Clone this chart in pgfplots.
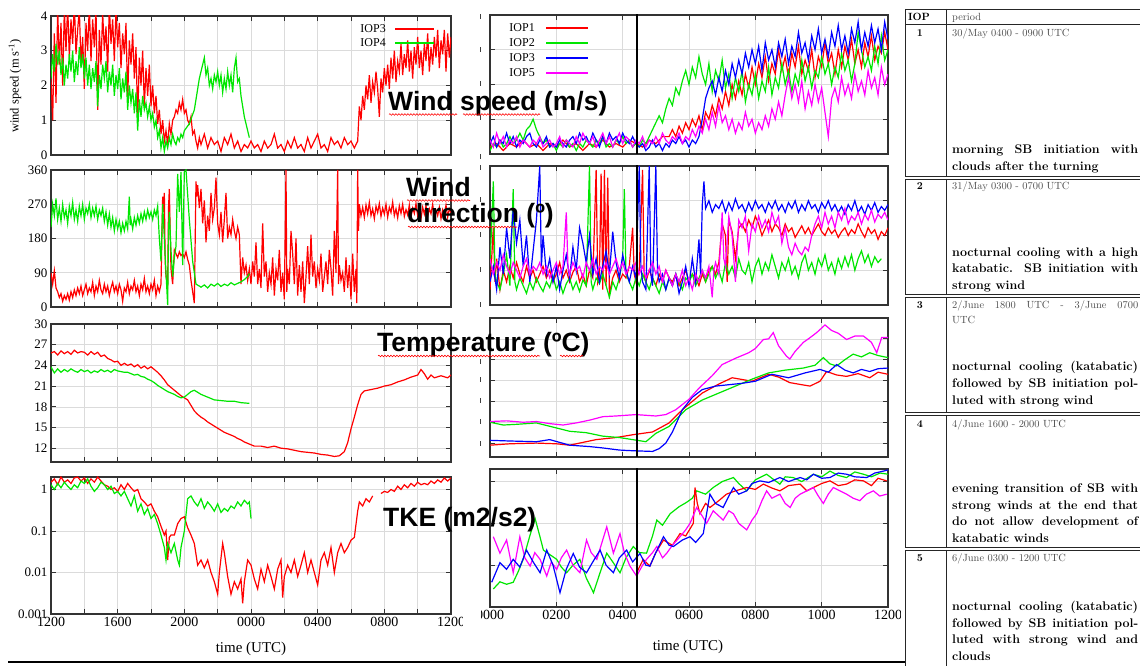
\documentclass[border=0pt]{standalone}
\usepackage{fontspec}
\usepackage{pgfplots}
\pgfplotsset{compat=1.18}
\usetikzlibrary{decorations.pathmorphing}
\newfontfamily\tnr{Liberation Serif}
\newfontfamily\arial{Liberation Sans}
\definecolor{cR}{RGB}{255,0,0}
\definecolor{cG}{RGB}{0,230,0}
\definecolor{cB}{RGB}{0,0,255}
\definecolor{cM}{RGB}{255,0,255}
\pgfplotsset{
 base/.style={scale only axis, anchor=north west,
   axis line style={line width=1.5pt, black!80},
   tick align=inside, xtick pos=both, ytick pos=both,
   major tick length=5pt, tick style={black!80, line width=0.8pt},
   grid=major, grid style={gray!28, line width=0.5pt},
   /pgf/number format/assume math mode=true,
   yticklabel style={font=\tnr\fontsize{13}{13}\selectfont},
   xticklabel style={font=\tnr\fontsize{14}{14}\selectfont},
   yminorticks=false},
 lefta/.style={base, width=400pt, xmin=0, xmax=24, xtick={0,2,...,24}, xticklabels={}},
 mida/.style={base, width=398pt, xmin=0, xmax=12, xtick={0,2,...,12}, xticklabels={}, yticklabels={}},
 dl/.style={line width=1.2pt},
}
\begin{document}
\begin{tikzpicture}[x=1pt,y=1pt]
\useasboundingbox (0,0) rectangle (1140,666);

% ================= LEFT COLUMN =================
\begin{scope}
\clip (0,0) rectangle (462,666);
% wind speed
\begin{axis}[lefta, at={(51pt,650pt)}, height=139pt, ymin=0, ymax=4, ytick={0,1,2,3,4}]
\addplot[cR, dl] coordinates {(0,2.2)(0.1,1.0)(0.2,3.5)(0.3,1.5)(0.4,4.2)(0.5,2.6)(0.6,3.8)(0.7,2.0)(0.8,4.2)(0.9,3.0)(1.0,4.3)(1.1,2.8)(1.2,3.9)(1.3,3.2)(1.4,4.4)(1.5,2.9)(1.6,3.6)(1.7,4.2)(1.8,2.6)(1.9,3.4)(2.0,1.9)(2.1,3.8)(2.2,3.0)(2.3,4.3)(2.4,2.7)(2.5,3.9)(2.6,3.1)(2.7,4.2)(2.8,1.3)(2.9,3.6)(3.0,2.6)(3.1,4.1)(3.2,3.0)(3.3,3.7)(3.4,2.4)(3.5,4.3)(3.6,3.2)(3.7,3.9)(3.8,2.7)(3.9,4.2)(4.0,3.1)(4.1,3.8)(4.2,2.5)(4.3,3.5)(4.4,2.9)(4.5,3.8)(4.6,1.6)(4.7,3.3)(4.8,2.6)(4.9,3.5)(5.0,2.2)(5.1,3.1)(5.2,1.0)(5.3,2.8)(5.4,2.0)(5.5,3.0)(5.6,1.4)(5.7,2.5)(5.8,1.7)(5.9,2.6)(6.0,1.4)(6.1,2.0)(6.2,1.2)(6.3,1.7)(6.4,0.9)(6.5,1.3)(6.6,0.6)(6.7,1.0)(6.8,0.4)(6.9,0.7)(7.0,0.3)(7.1,0.9)(7.2,0.6)(7.3,1.0)(7.4,1.1)(7.5,1.3)(7.6,1.2)(7.7,1.5)(7.8,1.3)(7.9,1.6)(8.0,1.2)(8.1,1.3)(8.2,1.0)(8.3,0.9)(8.4,1.1)(8.5,0.6)(8.6,0.7)(8.7,0.4)(8.8,0.2)(8.9,0.5)(9.0,0.3)(9.2,0.6)(9.4,0.2)(9.6,0.5)(9.8,0.3)(10.0,0.4)(10.2,0.1)(10.4,0.5)(10.6,0.3)(10.8,0.6)(11.0,0.2)(11.2,0.4)(11.4,0.1)(11.6,0.3)(11.8,0.2)(12.0,0.4)(12.2,0.2)(12.4,0.3)(12.6,0.1)(12.8,0.4)(13.0,0.2)(13.2,0.3)(13.4,0.6)(13.6,0.2)(13.8,0.3)(14.0,0.1)(14.2,0.4)(14.4,0.2)(14.6,0.5)(14.8,0.2)(15.0,0.3)(15.2,0.1)(15.4,0.5)(15.6,0.2)(15.8,0.4)(16.0,0.6)(16.2,0.2)(16.4,0.3)(16.6,0.1)(16.8,0.5)(17.0,0.3)(17.2,0.4)(17.4,0.2)(17.6,0.5)(17.8,0.3)(18.0,0.4)(18.2,0.2)(18.4,0.4)(18.5,1.4)(18.6,1.0)(18.7,1.7)(18.8,1.3)(18.9,2.0)(19.0,1.6)(19.1,2.3)(19.2,1.5)(19.3,2.1)(19.4,1.8)(19.5,2.4)(19.6,1.9)(19.7,1.1)(19.8,2.2)(19.9,1.8)(20.0,2.5)(20.1,2.0)(20.2,2.6)(20.3,1.9)(20.4,2.8)(20.5,2.2)(20.6,3.0)(20.7,2.1)(20.8,2.7)(20.9,2.4)(21.0,3.2)(21.1,2.3)(21.2,2.9)(21.3,2.5)(21.4,3.3)(21.5,2.4)(21.6,3.0)(21.7,2.2)(21.8,3.1)(21.9,2.6)(22.0,3.4)(22.1,2.5)(22.2,3.0)(22.3,2.3)(22.4,3.2)(22.5,2.7)(22.6,3.5)(22.7,2.4)(22.8,3.1)(22.9,2.6)(23.0,3.4)(23.1,2.8)(23.2,3.6)(23.3,2.5)(23.4,3.3)(23.5,2.9)(23.6,3.6)(23.7,2.4)(23.8,3.5)(23.9,2.8)(24.0,3.4)};
\addplot[cG, dl] coordinates {(0.0,2.2)(0.1,2.9)(0.2,2.4)(0.3,3.2)(0.4,2.6)(0.5,3.0)(0.6,2.3)(0.7,2.8)(0.8,2.0)(0.9,2.6)(1.0,2.2)(1.1,2.9)(1.2,2.4)(1.3,3.0)(1.4,2.1)(1.5,2.7)(1.6,2.3)(1.7,3.1)(1.8,2.5)(1.9,2.9)(2.0,2.2)(2.1,2.8)(2.2,2.0)(2.3,2.6)(2.4,1.9)(2.5,2.5)(2.6,2.1)(2.7,2.7)(2.8,1.4)(2.9,2.3)(3.0,1.9)(3.1,2.6)(3.2,2.2)(3.3,2.7)(3.4,1.8)(3.5,2.4)(3.6,2.0)(3.7,2.6)(3.8,1.7)(3.9,2.3)(4.0,1.9)(4.1,2.5)(4.2,1.6)(4.3,2.2)(4.4,1.8)(4.5,2.4)(4.6,1.3)(4.7,2.0)(4.8,1.5)(4.9,1.9)(5.0,1.2)(5.1,1.8)(5.2,0.7)(5.3,1.6)(5.4,1.1)(5.5,1.7)(5.6,1.3)(5.7,1.5)(5.8,1.1)(5.9,1.4)(6.0,1.0)(6.1,1.2)(6.2,0.8)(6.3,1.0)(6.4,0.5)(6.5,0.7)(6.6,0.2)(6.7,0.5)(6.8,0.1)(6.9,0.4)(7.0,0.2)(7.1,0.5)(7.2,0.3)(7.3,0.6)(7.4,0.4)(7.5,0.3)(7.6,0.5)(7.7,0.4)(7.8,0.6)(7.9,0.5)(8.0,0.7)(8.3,0.9)(8.6,1.3)(8.7,1.6)(8.8,1.9)(8.9,2.2)(9.0,2.4)(9.1,2.6)(9.2,2.8)(9.3,2.3)(9.4,2.5)(9.5,2.0)(9.6,2.2)(9.7,1.9)(9.8,2.3)(9.9,2.1)(10.0,2.4)(10.1,2.0)(10.2,2.3)(10.3,1.8)(10.4,2.2)(10.5,1.9)(10.6,2.4)(10.7,2.0)(10.8,2.3)(10.9,1.8)(11.0,2.5)(11.1,2.8)(11.2,2.1)(11.3,2.2)(11.4,1.7)(11.5,1.4)(11.6,1.1)(11.7,0.9)(11.8,0.7)(11.9,0.5)};
\end{axis}
% wind direction
\begin{axis}[lefta, at={(51pt,496pt)}, height=137pt, ymin=0, ymax=360, ytick={0,90,180,270,360}]
\addplot[cR, dl] coordinates {(0.0,90)(0.1,60)(0.2,95)(0.3,50)(0.4,40)(0.5,25)(0.6,35)(0.7,15)(0.8,30)(0.9,20)(1.0,35)(1.1,18)(1.2,40)(1.3,25)(1.4,45)(1.5,30)(1.6,50)(1.7,35)(1.8,55)(1.9,30)(2.0,45)(2.1,60)(2.2,35)(2.3,50)(2.4,40)(2.5,65)(2.6,30)(2.7,55)(2.8,40)(2.9,70)(3.0,45)(3.1,35)(3.2,60)(3.3,40)(3.4,55)(3.5,30)(3.6,50)(3.7,65)(3.8,40)(3.9,55)(4.0,35)(4.1,60)(4.2,45)(4.3,15)(4.4,50)(4.5,40)(4.6,65)(4.7,35)(4.8,55)(4.9,45)(5.0,70)(5.1,40)(5.2,55)(5.3,30)(5.4,60)(5.5,45)(5.6,75)(5.7,40)(5.8,55)(5.9,35)(6.0,60)(6.1,45)(6.2,70)(6.3,30)(6.4,55)(6.5,40)(6.6,60)(6.7,290)(6.75,250)(6.8,300)(6.85,120)(6.9,80)(7.0,60)(7.05,260)(7.1,310)(7.15,200)(7.2,100)(7.3,60)(7.4,150)(7.5,140)(7.6,130)(7.7,145)(7.8,135)(7.9,140)(8.0,130)(8.1,145)(8.2,125)(8.3,110)(8.4,70)(8.5,40)(8.6,10)(8.7,330)(8.75,290)(8.8,320)(8.9,260)(9.0,310)(9.1,220)(9.2,280)(9.3,170)(9.4,240)(9.5,200)(9.6,300)(9.7,230)(9.8,260)(9.9,340)(10.0,220)(10.1,190)(10.2,250)(10.3,170)(10.4,230)(10.5,300)(10.6,180)(10.7,210)(10.8,190)(10.9,230)(11.0,200)(11.1,180)(11.2,210)(11.3,190)(11.4,60)(11.5,130)(11.6,90)(11.7,110)(11.8,70)(11.9,100)(12.0,60)(12.1,120)(12.2,80)(12.3,170)(12.4,60)(12.5,100)(12.6,50)(12.7,220)(12.8,80)(12.9,120)(13.0,40)(13.1,90)(13.2,60)(13.3,130)(13.4,30)(13.5,100)(13.6,70)(13.7,150)(13.8,40)(13.9,90)(14.0,20)(14.1,360)(14.15,40)(14.2,100)(14.3,60)(14.4,200)(14.5,140)(14.6,60)(14.7,180)(14.8,30)(14.9,110)(15.0,40)(15.1,120)(15.2,10)(15.3,80)(15.4,160)(15.5,60)(15.6,190)(15.7,80)(15.8,120)(15.9,50)(16.0,100)(16.1,70)(16.2,140)(16.3,40)(16.4,80)(16.5,120)(16.6,60)(16.7,150)(16.8,100)(16.9,30)(17.0,200)(17.1,90)(17.2,360)(17.25,60)(17.3,110)(17.4,70)(17.5,90)(17.6,40)(17.7,130)(17.8,50)(17.9,110)(18.0,20)(18.1,140)(18.2,40)(18.3,100)(18.35,10)(18.4,360)(18.45,200)(18.5,270)(18.6,240)(18.7,262)(18.8,235)(18.9,268)(19.0,245)(19.1,275)(19.2,240)(19.3,258)(19.4,232)(19.5,265)(19.6,248)(19.7,272)(19.8,238)(19.9,260)(20.0,244)(20.1,270)(20.2,236)(20.3,262)(20.4,248)(20.5,276)(20.6,240)(20.7,258)(20.8,234)(20.9,266)(21.0,246)(21.1,270)(21.2,238)(21.3,256)(21.4,242)(21.5,268)(21.6,236)(21.7,260)(21.8,246)(21.9,272)(22.0,240)(22.1,255)(22.2,232)(22.3,262)(22.4,244)(22.5,266)(22.6,238)(22.7,258)(22.8,245)(22.9,270)(23.0,236)(23.1,254)(23.2,240)(23.3,262)(23.4,232)(23.5,256)(23.6,244)(23.7,268)(23.8,236)(23.9,258)(24.0,248)};
\addplot[cG, dl] coordinates {(0.0,210)(0.1,270)(0.2,240)(0.3,285)(0.4,230)(0.5,260)(0.6,225)(0.7,270)(0.8,235)(0.9,255)(1.0,220)(1.1,265)(1.2,240)(1.3,275)(1.4,230)(1.5,255)(1.6,225)(1.7,265)(1.8,240)(1.9,270)(2.0,230)(2.1,260)(2.2,245)(2.3,270)(2.4,235)(2.5,260)(2.6,240)(2.7,265)(2.8,230)(2.9,255)(3.0,240)(3.1,260)(3.2,225)(3.3,250)(3.4,215)(3.5,245)(3.6,210)(3.7,235)(3.8,200)(3.9,230)(4.0,205)(4.1,225)(4.2,195)(4.3,220)(4.4,200)(4.5,225)(4.6,205)(4.7,290)(4.75,215)(4.8,230)(4.9,205)(5.0,235)(5.1,215)(5.2,240)(5.3,220)(5.4,245)(5.5,225)(5.6,250)(5.7,230)(5.8,255)(5.9,235)(6.0,250)(6.1,230)(6.2,255)(6.3,240)(6.4,265)(6.5,180)(6.6,120)(6.7,270)(6.8,180)(6.9,90)(7.0,5)(7.05,200)(7.1,250)(7.2,150)(7.3,80)(7.4,130)(7.5,160)(7.6,350)(7.7,250)(7.8,355)(7.9,110)(8.0,355)(8.1,360)(8.3,230)(8.5,120)(8.7,60)(8.9,55)(9.0,52)(9.2,58)(9.4,50)(9.6,60)(9.8,55)(10.0,62)(10.2,54)(10.4,60)(10.6,56)(10.8,64)(11.0,58)(11.2,62)(11.4,66)(11.6,72)(11.8,80)(11.9,88)};
\end{axis}
% temperature
\begin{axis}[lefta, at={(51pt,342pt)}, height=138pt, ymin=10, ymax=30, ytick={12,15,18,21,24,27,30}]
\addplot[cR, dl] coordinates {(0,25.8)(0.2,26.0)(0.4,25.5)(0.6,26.1)(0.8,25.7)(1.0,26.0)(1.2,25.6)(1.4,26.2)(1.6,25.8)(1.8,26.0)(2.0,25.9)(2.2,25.5)(2.4,26.0)(2.6,25.6)(2.8,25.9)(3.0,25.3)(3.2,25.5)(3.4,25.0)(3.6,24.8)(3.8,24.5)(4.0,24.6)(4.2,24.0)(4.4,24.3)(4.6,24.0)(4.8,24.2)(5.0,23.8)(5.2,24.1)(5.4,23.6)(5.6,23.9)(5.8,23.5)(6.0,23.8)(6.2,23.4)(6.4,23.0)(6.6,22.5)(6.8,21.9)(7.0,21.2)(7.2,20.8)(7.4,20.4)(7.6,20.0)(7.8,19.6)(8.0,19.3)(8.2,19.0)(8.4,18.2)(8.6,17.4)(8.8,16.9)(9.0,16.5)(9.2,16.2)(9.4,15.8)(9.6,15.5)(9.8,15.2)(10.0,14.9)(10.2,14.6)(10.4,14.3)(10.6,14.1)(10.8,13.9)(11.0,13.7)(11.2,13.4)(11.4,13.2)(11.6,12.9)(11.8,12.7)(12.0,12.5)(12.2,12.3)(12.6,12.3)(13.0,12.1)(13.4,12.3)(13.8,12.0)(14.2,11.9)(14.6,11.7)(15.0,11.5)(15.4,11.4)(15.8,11.3)(16.2,11.1)(16.6,11.0)(17.0,10.8)(17.3,10.9)(17.6,11.5)(17.8,12.8)(18.0,14.8)(18.2,16.5)(18.4,18.3)(18.6,19.8)(18.8,20.3)(19.2,20.5)(19.6,20.7)(20.0,21.0)(20.4,21.2)(20.8,21.6)(21.2,21.9)(21.6,22.3)(22.0,22.6)(22.2,23.4)(22.4,22.8)(22.6,22.0)(22.8,22.6)(23.0,22.2)(23.4,22.5)(23.8,22.2)(24.0,22.6)};
\addplot[cG, dl] coordinates {(0,23.8)(0.2,22.9)(0.4,23.5)(0.6,23.0)(0.8,23.4)(1.0,23.1)(1.2,23.5)(1.4,23.2)(1.6,23.0)(1.8,23.4)(2.0,23.1)(2.2,23.3)(2.4,22.9)(2.6,23.2)(2.8,23.0)(3.0,23.4)(3.2,23.1)(3.4,23.3)(3.6,23.0)(3.8,23.4)(4.0,23.2)(4.2,23.1)(4.4,23.0)(4.6,23.0)(4.8,22.8)(5.0,22.6)(5.2,22.7)(5.4,22.4)(5.6,22.3)(5.8,22.0)(6.0,21.8)(6.2,21.5)(6.4,21.1)(6.6,20.8)(6.8,20.5)(7.0,20.2)(7.2,20.0)(7.4,19.8)(7.6,19.5)(7.8,19.3)(8.0,19.4)(8.2,19.8)(8.4,20.2)(8.6,20.4)(8.8,20.1)(9.0,19.8)(9.4,19.4)(9.8,19.0)(10.2,18.9)(10.6,18.8)(11.0,18.8)(11.4,18.6)(11.9,18.5)};
\end{axis}
% TKE
\begin{axis}[lefta, at={(51pt,189pt)}, height=137pt, ymode=log, ymin=0.001, ymax=2,
  ytick={0.001,0.01,0.1,1}, yticklabels={0.001,0.01,0.1,1},
  xticklabels={1200,,1600,,2000,,0000,,0400,,0800,,1200}]
\addplot[cR, dl] coordinates {(0,1.5)(0.2,1.8)(0.4,1.3)(0.6,2.0)(0.8,1.5)(1.0,1.7)(1.2,1.4)(1.4,1.9)(1.6,2.0)(1.8,1.6)(2.0,1.9)(2.2,1.4)(2.4,1.8)(2.6,1.5)(2.8,2.0)(3.0,1.6)(3.2,1.3)(3.4,1.2)(3.6,1.0)(3.8,1.1)(4.0,0.9)(4.2,1.3)(4.4,1.0)(4.6,1.4)(4.8,1.1)(5.0,0.9)(5.2,1.0)(5.4,0.6)(5.6,0.5)(5.8,0.4)(6.0,0.45)(6.2,0.3)(6.4,0.22)(6.6,0.13)(6.8,0.08)(6.9,0.1)(7.0,0.02)(7.1,0.07)(7.2,0.08)(7.4,0.08)(7.6,0.15)(7.8,0.2)(8.0,0.22)(8.2,0.12)(8.4,0.08)(8.6,0.05)(8.8,0.015)(9.0,0.02)(9.2,0.013)(9.4,0.02)(9.6,0.01)(9.8,0.006)(10.0,0.003)(10.1,0.01)(10.3,0.05)(10.4,0.03)(10.6,0.008)(10.8,0.003)(11.0,0.006)(11.2,0.004)(11.4,0.007)(11.5,0.0018)(11.6,0.006)(11.8,0.02)(12.0,0.015)(12.2,0.007)(12.4,0.004)(12.6,0.012)(12.8,0.006)(13.0,0.015)(13.2,0.008)(13.4,0.004)(13.6,0.012)(13.8,0.02)(13.9,0.0025)(14.0,0.008)(14.2,0.015)(14.4,0.01)(14.6,0.02)(14.8,0.008)(15.0,0.015)(15.2,0.03)(15.4,0.01)(15.6,0.02)(15.8,0.01)(16.0,0.005)(16.2,0.02)(16.4,0.03)(16.6,0.015)(16.8,0.04)(17.0,0.01)(17.2,0.03)(17.4,0.05)(17.6,0.03)(17.8,0.04)(18.0,0.06)(18.2,0.07)(18.4,0.3)(18.5,0.5)(18.7,0.4)(18.9,0.6)(19.1,0.5)(19.3,0.7)};
\addplot[cR, dl] coordinates {(19.8,0.8)(20.0,0.9)(20.2,0.85)(20.4,1.0)(20.6,0.9)(20.8,1.2)(21.0,1.0)(21.2,1.3)(21.4,1.1)(21.6,1.4)(21.8,1.2)(22.0,1.5)(22.2,1.3)(22.4,1.4)(22.6,1.3)(22.8,1.6)(23.0,1.4)(23.2,1.7)(23.4,1.5)(23.6,1.9)(23.8,1.6)(24.0,1.9)};
\addplot[cG, dl] coordinates {(0,1.3)(0.2,1.0)(0.4,1.4)(0.6,1.1)(0.8,1.5)(1.0,1.2)(1.2,1.0)(1.4,1.3)(1.6,1.1)(1.8,1.6)(2.0,1.4)(2.2,1.8)(2.4,1.2)(2.6,0.9)(2.8,1.1)(3.0,1.5)(3.2,1.3)(3.4,1.0)(3.6,1.2)(3.8,0.8)(4.0,0.9)(4.2,0.7)(4.4,0.9)(4.6,0.6)(4.8,0.4)(5.0,0.7)(5.2,0.3)(5.4,0.45)(5.6,0.25)(5.8,0.35)(6.0,0.2)(6.2,0.25)(6.4,0.15)(6.6,0.08)(6.8,0.04)(6.9,0.02)(7.0,0.05)(7.2,0.03)(7.4,0.05)(7.6,0.02)(7.7,0.015)(7.8,0.04)(8.0,0.1)(8.2,0.6)(8.4,0.7)(8.6,0.5)(8.8,0.4)(9.0,0.6)(9.2,0.35)(9.4,0.5)(9.6,0.4)(9.8,0.3)(10.0,0.45)(10.2,0.28)(10.4,0.35)(10.6,0.3)(10.8,0.4)(11.0,0.35)(11.2,0.5)(11.4,0.4)(11.6,0.55)(11.8,0.45)(11.9,0.5)(12.0,0.2)};
\end{axis}
\node[rotate=90, font=\tnr\fontsize{12.5}{12.5}\selectfont] at (15,580) {wind speed (m s\textsuperscript{-1})};
\node[font=\tnr\fontsize{15}{15}\selectfont] at (251,17) {time (UTC)};
\end{scope}

% ================= MIDDLE COLUMN =================
\begin{scope}
\clip (481,0) rectangle (900,666);
% wind speed
\begin{axis}[mida, at={(490pt,651pt)}, height=139pt, ymin=0, ymax=4, ytick={0,1,2,3,4}]
\addplot[cR, dl] coordinates {(0.0,0.2)(0.2,0.3)(0.4,0.1)(0.6,0.3)(0.8,0.2)(1.0,0.4)(1.2,0.2)(1.4,0.3)(1.6,0.1)(1.8,0.3)(2.0,0.2)(2.2,0.4)(2.4,0.2)(2.6,0.3)(2.8,0.1)(3.0,0.3)(3.2,0.2)(3.4,0.4)(3.6,0.2)(3.8,0.3)(4.0,0.2)(4.2,0.4)(4.4,0.3)(4.6,0.2)(4.8,0.4)(5.0,0.3)(5.2,0.5)(5.4,0.5)(5.5,0.7)(5.6,0.5)(5.7,0.8)(5.8,0.6)(5.9,0.9)(6.0,0.7)(6.1,1.0)(6.2,0.8)(6.3,1.1)(6.4,0.7)(6.5,1.2)(6.6,1.0)(6.7,1.4)(6.8,1.1)(6.9,1.6)(7.0,1.3)(7.1,1.8)(7.2,1.4)(7.3,2.0)(7.4,1.6)(7.5,2.1)(7.6,1.7)(7.7,2.3)(7.8,1.9)(7.9,2.5)(8.0,2.0)(8.1,2.6)(8.2,2.2)(8.3,2.8)(8.4,2.1)(8.5,2.6)(8.6,2.3)(8.7,3.0)(8.8,2.4)(8.9,2.8)(9.0,2.2)(9.1,2.9)(9.2,2.5)(9.3,3.1)(9.4,2.3)(9.5,2.7)(9.6,2.4)(9.7,3.0)(9.8,2.2)(9.9,2.8)(10.0,2.5)(10.1,3.2)(10.2,2.6)(10.3,2.9)(10.4,2.3)(10.5,3.0)(10.6,2.5)(10.7,3.1)(10.8,2.7)(10.9,3.3)(11.0,2.6)(11.1,3.0)(11.2,2.5)(11.3,3.2)(11.4,2.8)(11.5,3.4)(11.6,2.7)(11.7,3.1)(11.8,2.9)(11.9,3.5)(12.0,3.0)};
\addplot[cG, dl] coordinates {(0.0,0.1)(0.1,0.3)(0.2,0.2)(0.3,0.4)(0.4,0.2)(0.5,0.3)(0.6,0.5)(0.7,0.3)(0.8,0.4)(0.9,0.6)(1.0,0.4)(1.1,0.7)(1.2,0.8)(1.3,1.0)(1.4,0.7)(1.5,0.5)(1.6,0.3)(1.7,0.4)(1.8,0.2)(1.9,0.3)(2.0,0.1)(2.1,0.3)(2.2,0.2)(2.3,0.4)(2.4,0.2)(2.5,0.3)(2.6,0.1)(2.7,0.3)(2.8,0.2)(2.9,0.4)(3.0,0.3)(3.1,0.2)(3.2,0.4)(3.3,0.3)(3.4,0.5)(3.5,0.2)(3.6,0.3)(3.7,0.2)(3.8,0.4)(3.9,0.3)(4.0,0.5)(4.1,0.3)(4.2,0.4)(4.3,0.2)(4.4,0.3)(4.5,0.2)(4.6,0.4)(4.7,0.3)(4.8,0.5)(4.9,0.7)(5.0,0.9)(5.1,1.1)(5.2,0.9)(5.3,1.3)(5.4,1.6)(5.5,1.4)(5.6,1.9)(5.7,1.7)(5.8,2.1)(5.9,2.4)(6.0,2.0)(6.1,2.5)(6.2,2.2)(6.3,2.8)(6.4,2.3)(6.5,2.0)(6.6,2.6)(6.7,1.8)(6.8,2.4)(6.9,2.1)(7.0,2.7)(7.1,1.9)(7.2,2.3)(7.3,1.6)(7.4,2.2)(7.5,1.8)(7.6,2.4)(7.7,1.5)(7.8,2.0)(7.9,1.7)(8.0,2.3)(8.1,1.6)(8.2,2.1)(8.3,1.8)(8.4,2.5)(8.5,1.7)(8.6,2.2)(8.7,1.9)(8.8,2.6)(8.9,2.0)(9.0,2.4)(9.1,1.8)(9.2,2.3)(9.3,2.0)(9.4,2.7)(9.5,2.1)(9.6,2.5)(9.7,1.9)(9.8,2.4)(9.9,2.2)(10.0,2.8)(10.1,2.3)(10.2,2.6)(10.3,2.0)(10.4,2.5)(10.5,2.2)(10.6,2.9)(10.7,2.4)(10.8,2.7)(10.9,2.1)(11.0,2.6)(11.1,3.5)(11.2,3.0)(11.3,2.5)(11.4,2.8)(11.5,2.4)(11.6,3.1)(11.7,2.6)(11.8,3.4)(11.9,2.7)(12.0,3.0)};
\addplot[cB, dl] coordinates {(0.0,0.3)(0.1,0.5)(0.2,0.2)(0.3,0.4)(0.4,0.3)(0.5,0.6)(0.6,0.3)(0.7,0.5)(0.8,0.2)(0.9,0.4)(1.0,0.3)(1.1,0.5)(1.2,0.6)(1.3,0.3)(1.4,0.2)(1.5,0.4)(1.6,0.3)(1.7,0.5)(1.8,0.2)(1.9,0.3)(2.0,0.2)(2.1,0.4)(2.2,0.3)(2.3,0.2)(2.4,0.4)(2.5,0.5)(2.6,0.3)(2.7,0.6)(2.8,0.4)(2.9,0.5)(3.0,0.3)(3.1,0.6)(3.2,0.4)(3.3,0.2)(3.4,0.5)(3.5,0.3)(3.6,0.6)(3.7,0.4)(3.8,0.5)(3.9,0.3)(4.0,0.6)(4.1,0.4)(4.2,0.3)(4.3,0.5)(4.4,0.3)(4.5,0.2)(4.6,0.3)(4.7,0.1)(4.8,0.2)(4.9,0.4)(5.0,0.2)(5.1,0.3)(5.2,0.1)(5.3,0.3)(5.4,0.2)(5.5,0.4)(5.6,0.3)(5.7,0.5)(5.8,0.3)(5.9,0.4)(6.0,0.2)(6.1,0.4)(6.2,0.3)(6.3,0.5)(6.4,1.0)(6.5,1.6)(6.6,1.9)(6.7,2.1)(6.8,1.7)(6.9,2.2)(7.0,1.8)(7.1,2.4)(7.2,2.0)(7.3,2.6)(7.4,2.2)(7.5,2.7)(7.6,2.3)(7.7,2.9)(7.8,2.5)(7.9,3.0)(8.0,2.6)(8.1,3.1)(8.2,2.4)(8.3,3.2)(8.4,2.7)(8.5,3.0)(8.6,2.5)(8.7,3.2)(8.8,2.8)(8.9,3.3)(9.0,2.6)(9.1,3.1)(9.2,2.8)(9.3,3.5)(9.4,2.9)(9.5,3.2)(9.6,2.7)(9.7,3.4)(9.8,3.0)(9.9,3.6)(10.0,2.9)(10.1,3.3)(10.2,2.8)(10.3,3.5)(10.4,3.1)(10.5,3.7)(10.6,3.0)(10.7,3.4)(10.8,2.9)(10.9,3.6)(11.0,3.2)(11.1,3.8)(11.2,3.0)(11.3,3.5)(11.4,3.1)(11.5,3.7)(11.6,3.2)(11.7,3.6)(11.8,3.0)(11.9,3.8)(12.0,3.3)};
\addplot[cM, dl] coordinates {(0.0,0.4)(0.1,0.2)(0.2,0.6)(0.3,0.3)(0.4,0.5)(0.5,0.2)(0.6,0.4)(0.7,0.3)(0.8,0.5)(0.9,0.2)(1.0,0.4)(1.1,0.3)(1.2,0.2)(1.3,0.4)(1.4,0.3)(1.5,0.5)(1.6,0.2)(1.7,0.3)(1.8,0.4)(1.9,0.2)(2.0,0.3)(2.1,0.5)(2.2,0.2)(2.3,0.4)(2.4,0.3)(2.5,0.2)(2.6,0.5)(2.7,0.3)(2.8,0.6)(2.9,0.4)(3.0,0.3)(3.1,0.5)(3.2,0.2)(3.3,0.4)(3.4,0.6)(3.5,0.3)(3.6,0.5)(3.7,0.2)(3.8,0.4)(3.9,0.6)(4.0,0.3)(4.1,0.5)(4.2,0.4)(4.3,0.2)(4.4,0.4)(4.5,0.3)(4.6,0.5)(4.7,0.2)(4.8,0.4)(4.9,0.3)(5.0,0.5)(5.1,0.3)(5.2,0.6)(5.3,0.4)(5.4,0.3)(5.5,0.5)(5.6,0.4)(5.7,0.6)(5.8,0.3)(5.9,0.5)(6.0,0.4)(6.1,0.7)(6.2,0.5)(6.3,0.8)(6.4,0.6)(6.5,1.0)(6.6,0.7)(6.7,1.2)(6.8,0.8)(6.9,1.4)(7.0,0.9)(7.1,1.1)(7.2,0.7)(7.3,1.0)(7.4,0.6)(7.5,0.9)(7.6,0.7)(7.7,1.2)(7.8,0.8)(7.9,1.0)(8.0,0.6)(8.1,0.9)(8.2,0.7)(8.3,1.1)(8.4,0.8)(8.5,1.3)(8.6,1.0)(8.7,1.5)(8.8,1.1)(8.9,1.7)(9.0,2.2)(9.1,1.6)(9.2,2.0)(9.3,1.5)(9.4,2.1)(9.5,1.3)(9.6,1.8)(9.7,1.4)(9.8,2.0)(9.9,1.5)(10.0,1.9)(10.1,1.2)(10.2,0.5)(10.3,1.6)(10.4,1.9)(10.5,1.5)(10.6,2.2)(10.7,1.7)(10.8,2.0)(10.9,1.6)(11.0,2.3)(11.1,1.8)(11.2,2.1)(11.3,1.7)(11.4,2.4)(11.5,1.9)(11.6,2.2)(11.7,1.7)(11.8,2.5)(11.9,2.0)(12.0,2.3)};
\addplot[black, line width=2.2pt] coordinates {(4.43,-1)(4.43,5)};
\end{axis}
% wind direction
\begin{axis}[mida, at={(490pt,500pt)}, height=139pt, ymin=0, ymax=360, ytick={0,90,180,270,360}]
\addplot[cR, dl] coordinates {(0.0,40)(0.1,200)(0.15,60)(0.2,120)(0.3,40)(0.4,90)(0.5,60)(0.6,100)(0.7,70)(0.8,110)(0.9,80)(1.0,60)(1.1,100)(1.2,70)(1.3,90)(1.4,60)(1.5,80)(1.6,100)(1.7,70)(1.8,90)(1.9,60)(2.0,80)(2.1,110)(2.2,70)(2.3,90)(2.4,60)(2.5,85)(2.6,100)(2.7,60)(2.8,80)(2.9,50)(3.0,90)(3.1,70)(3.2,350)(3.25,60)(3.3,80)(3.35,340)(3.4,40)(3.45,350)(3.5,50)(3.55,330)(3.6,30)(3.7,70)(3.8,90)(3.9,60)(4.0,80)(4.1,70)(4.2,100)(4.3,200)(4.35,80)(4.4,60)(4.5,90)(4.6,350)(4.65,70)(4.7,60)(4.8,90)(4.9,70)(5.0,50)(5.1,80)(5.2,60)(5.3,90)(5.4,70)(5.5,60)(5.6,80)(5.7,50)(5.8,70)(5.9,90)(6.0,60)(6.1,80)(6.2,70)(6.3,50)(6.4,80)(6.5,60)(6.6,90)(6.7,100)(6.8,80)(6.9,110)(7.0,210)(7.1,180)(7.15,60)(7.2,220)(7.3,190)(7.4,120)(7.5,200)(7.6,210)(7.7,190)(7.8,220)(7.9,200)(8.0,230)(8.1,210)(8.2,180)(8.3,200)(8.4,220)(8.5,190)(8.6,210)(8.7,200)(8.8,180)(8.9,210)(9.0,190)(9.1,200)(9.2,175)(9.3,190)(9.4,205)(9.5,185)(9.6,200)(9.7,180)(9.8,195)(9.9,210)(10.0,190)(10.1,180)(10.2,200)(10.3,185)(10.4,195)(10.5,175)(10.6,190)(10.7,200)(10.8,180)(10.9,195)(11.0,185)(11.1,210)(11.2,190)(11.3,175)(11.4,200)(11.5,185)(11.6,195)(11.7,170)(11.8,190)(11.9,180)(12.0,200)};
\addplot[cG, dl] coordinates {(0.0,100)(0.1,320)(0.15,80)(0.2,60)(0.3,40)(0.4,80)(0.5,130)(0.6,50)(0.7,300)(0.75,60)(0.8,40)(0.9,70)(1.0,50)(1.1,30)(1.2,60)(1.3,40)(1.4,70)(1.5,50)(1.6,35)(1.7,60)(1.8,45)(1.9,75)(2.0,40)(2.1,60)(2.2,30)(2.3,55)(2.4,70)(2.5,40)(2.6,60)(2.7,35)(2.8,65)(2.9,50)(3.0,360)(3.05,60)(3.1,40)(3.2,70)(3.3,55)(3.4,80)(3.5,50)(3.6,20)(3.7,60)(3.8,40)(3.9,70)(4.0,120)(4.05,300)(4.1,80)(4.2,60)(4.3,40)(4.4,70)(4.5,50)(4.6,80)(4.7,60)(4.8,40)(4.9,70)(5.0,50)(5.1,30)(5.2,60)(5.3,40)(5.4,70)(5.5,50)(5.6,80)(5.7,60)(5.8,40)(5.9,70)(6.0,60)(6.1,80)(6.2,50)(6.3,70)(6.4,90)(6.5,60)(6.6,80)(6.7,100)(6.8,70)(6.9,90)(7.0,60)(7.1,110)(7.2,80)(7.3,100)(7.4,70)(7.5,120)(7.6,90)(7.7,80)(7.8,110)(7.9,60)(8.0,100)(8.1,120)(8.2,80)(8.3,110)(8.4,90)(8.5,130)(8.6,100)(8.7,70)(8.8,110)(8.9,90)(9.0,120)(9.1,80)(9.2,100)(9.3,70)(9.4,110)(9.5,130)(9.6,90)(9.7,110)(9.8,80)(9.9,120)(10.0,100)(10.1,130)(10.2,90)(10.3,110)(10.4,80)(10.5,120)(10.6,95)(10.7,125)(10.8,100)(10.9,130)(11.0,90)(11.1,120)(11.2,140)(11.3,110)(11.4,130)(11.5,100)(11.6,125)(11.7,110)(11.8,120)};
\addplot[cB, dl] coordinates {(0.0,60)(0.1,100)(0.2,40)(0.3,150)(0.4,80)(0.5,200)(0.6,120)(0.7,250)(0.8,160)(0.9,220)(1.0,100)(1.1,180)(1.2,60)(1.3,140)(1.4,220)(1.5,360)(1.55,100)(1.6,180)(1.7,80)(1.8,120)(1.9,60)(2.0,100)(2.1,40)(2.2,90)(2.3,130)(2.4,70)(2.5,150)(2.6,90)(2.7,200)(2.8,160)(2.9,110)(3.0,180)(3.1,80)(3.2,120)(3.3,60)(3.4,100)(3.5,140)(3.6,80)(3.7,190)(3.8,110)(3.9,70)(4.0,130)(4.1,90)(4.2,60)(4.3,100)(4.4,70)(4.5,360)(4.55,100)(4.6,60)(4.7,40)(4.8,360)(4.85,80)(4.9,50)(5.0,360)(5.05,90)(5.1,60)(5.2,80)(5.3,40)(5.4,70)(5.5,50)(5.6,80)(5.7,30)(5.8,60)(5.9,100)(6.0,50)(6.1,120)(6.2,60)(6.3,170)(6.35,80)(6.4,260)(6.45,320)(6.5,250)(6.6,270)(6.7,240)(6.8,260)(6.9,250)(7.0,270)(7.1,240)(7.2,265)(7.3,245)(7.4,275)(7.5,250)(7.6,260)(7.7,240)(7.8,265)(7.9,245)(8.0,270)(8.1,250)(8.2,260)(8.3,240)(8.4,265)(8.5,250)(8.6,270)(8.7,245)(8.8,260)(8.9,240)(9.0,265)(9.1,250)(9.2,270)(9.3,240)(9.4,260)(9.5,245)(9.6,270)(9.7,250)(9.8,260)(9.9,240)(10.0,265)(10.1,250)(10.2,270)(10.3,245)(10.4,260)(10.5,240)(10.6,255)(10.7,235)(10.8,260)(10.9,245)(11.0,270)(11.1,240)(11.2,255)(11.3,235)(11.4,260)(11.5,245)(11.6,265)(11.7,240)(11.8,255)(11.9,245)(12.0,260)};
\addplot[cM, dl] coordinates {(0.0,120)(0.1,80)(0.2,110)(0.3,90)(0.4,130)(0.5,100)(0.6,80)(0.7,110)(0.8,90)(0.9,70)(1.0,100)(1.1,120)(1.2,80)(1.3,100)(1.4,90)(1.5,110)(1.6,80)(1.7,100)(1.8,70)(1.9,90)(2.0,110)(2.1,80)(2.2,100)(2.3,240)(2.35,100)(2.4,80)(2.5,110)(2.6,90)(2.7,100)(2.8,70)(2.9,110)(3.0,90)(3.1,120)(3.2,80)(3.3,100)(3.4,90)(3.5,110)(3.6,80)(3.7,100)(3.8,120)(3.9,90)(4.0,110)(4.1,80)(4.2,100)(4.3,90)(4.4,110)(4.5,80)(4.6,100)(4.7,70)(4.8,90)(4.9,110)(5.0,80)(5.1,100)(5.2,60)(5.3,90)(5.4,70)(5.5,50)(5.6,80)(5.7,60)(5.8,90)(5.9,50)(6.0,70)(6.1,40)(6.2,80)(6.3,60)(6.4,90)(6.5,70)(6.6,100)(6.7,20)(6.75,90)(6.8,110)(6.9,80)(7.0,240)(7.05,120)(7.1,100)(7.2,230)(7.3,180)(7.4,60)(7.5,220)(7.6,200)(7.7,230)(7.8,140)(7.9,210)(8.0,190)(8.1,230)(8.2,200)(8.3,220)(8.4,190)(8.5,240)(8.6,210)(8.7,230)(8.8,160)(8.9,200)(9.0,150)(9.1,130)(9.2,160)(9.3,140)(9.4,130)(9.5,150)(9.6,140)(9.7,180)(9.8,210)(9.9,230)(10.0,200)(10.1,240)(10.2,210)(10.3,230)(10.4,200)(10.5,240)(10.6,220)(10.7,250)(10.8,210)(10.9,230)(11.0,220)(11.1,240)(11.2,210)(11.3,235)(11.4,220)(11.5,245)(11.6,215)(11.7,235)(11.8,225)(11.9,240)(12.0,220)};
\addplot[black, line width=2.2pt] coordinates {(4.43,-10)(4.43,400)};
\end{axis}
% temperature
\begin{axis}[mida, at={(490pt,348pt)}, height=139pt, ymin=10, ymax=30, ytick={12,15,18,21,24,27,30}]
\addplot[cR, dl] coordinates {(0,11.7)(0.6,11.9)(1.4,12.0)(2.0,11.9)(2.4,11.7)(3.2,12.5)(3.8,12.8)(4.3,13.2)(4.9,13.6)(5.4,14.9)(5.8,16.8)(6.4,19.2)(6.9,20.5)(7.3,21.4)(7.9,20.9)(8.4,21.9)(8.7,21.5)(9.04,20.7)(9.4,20.4)(9.65,20.2)(9.95,20.9)(10.15,22.3)(10.45,21.8)(10.75,21.6)(11.1,22.0)(11.45,21.4)(11.7,22.2)(12,21.9)};
\addplot[cG, dl] coordinates {(0,15.0)(0.4,14.6)(0.8,14.7)(1.4,14.9)(1.9,14.3)(2.4,13.7)(2.9,13.5)(3.4,13.0)(3.9,12.8)(4.3,12.5)(4.7,12.2)(5.0,13.4)(5.4,14.4)(5.9,16.8)(6.4,18.2)(6.9,19.2)(7.4,20.2)(7.9,21.2)(8.4,22.1)(8.9,22.5)(9.45,22.8)(9.8,23.2)(10.05,24.3)(10.25,23.4)(10.45,23.1)(10.7,24.0)(10.95,24.8)(11.2,24.4)(11.45,25.0)(11.7,24.6)(12,24.3)};
\addplot[cB, dl] coordinates {(0,12.4)(0.6,12.3)(1.4,12.2)(1.8,12.5)(2.4,11.7)(3.0,11.5)(3.4,11.3)(3.9,11.0)(4.3,10.9)(4.9,10.8)(5.1,11.2)(5.3,12.0)(5.5,13.6)(5.8,16.8)(6.1,18.6)(6.4,19.7)(6.8,20.2)(7.2,20.4)(7.6,20.6)(8.0,20.9)(8.5,21.9)(9.0,21.4)(9.5,22.1)(9.95,22.6)(10.2,22.2)(10.45,23.3)(10.7,22.5)(10.95,22.1)(11.2,22.6)(11.45,22.3)(11.7,22.7)(12,22.8)};
\addplot[cM, dl] coordinates {(0,15.1)(0.5,15.2)(1.0,15.0)(1.4,15.1)(1.8,14.8)(2.2,14.6)(2.6,14.9)(3.0,15.3)(3.4,15.8)(3.8,15.9)(4.4,16.1)(5.0,15.9)(5.3,16.1)(5.6,16.8)(6.0,18.3)(6.3,19.9)(6.7,21.7)(7.0,23.3)(7.4,24.2)(7.8,25.0)(8.0,25.6)(8.24,26.9)(8.4,27.0)(8.54,27.9)(8.7,26.0)(8.94,24.5)(9.04,24.1)(9.2,25.2)(9.45,26.5)(9.6,27.0)(9.85,27.9)(10.1,29.0)(10.3,28.2)(10.5,27.8)(10.75,26.9)(11.0,27.4)(11.26,27.4)(11.5,26.5)(11.66,25.0)(11.81,27.2)(12,27.2)};
\addplot[black, line width=2.2pt] coordinates {(4.43,0)(4.43,40)};
\end{axis}
% TKE
\begin{axis}[mida, at={(490pt,197pt)}, height=138pt, ymode=log, ymin=0.001, ymax=2,
  ytick={0.001,0.01,0.1,1}, xticklabels={0000,0200,0400,0600,0800,1000,1200}]
\addplot[cG, dl] coordinates {(0.1,0.0027)(0.3,0.004)(0.5,0.0035)(0.7,0.0039)(0.85,0.007)(1.0,0.0138)(1.2,0.05)(1.36,0.13)(1.5,0.05)(1.61,0.023)(1.8,0.018)(2.01,0.0138)(2.15,0.009)(2.31,0.0066)(2.5,0.01)(2.71,0.0138)(2.9,0.005)(3.12,0.0022)(3.3,0.006)(3.52,0.0194)(3.7,0.012)(3.92,0.0066)(4.1,0.015)(4.32,0.028)(4.5,0.02)(4.72,0.0194)(4.9,0.05)(5.03,0.12)(5.2,0.09)(5.43,0.17)(5.7,0.25)(5.93,0.32)(6.1,0.4)(6.23,0.6)(6.5,0.5)(6.73,0.72)(7.0,1.0)(7.34,1.25)(7.5,0.9)(7.74,0.6)(8.0,1.1)(8.34,1.5)(8.5,1.2)(8.74,0.87)(8.9,1.3)(9.14,1.25)(9.4,1.0)(9.75,1.5)(10.0,1.3)(10.25,1.78)(10.5,1.4)(10.75,1.25)(11.0,1.7)(11.26,1.5)(11.5,1.3)(11.76,1.6)(12,1.5)};
\addplot[cR, dl] coordinates {(4.42,0.0066)(4.62,0.0138)(4.82,0.0095)(5.0,0.02)(5.23,0.04)(5.5,0.03)(5.73,0.057)(5.9,0.05)(6.13,0.1)(6.18,0.72)(6.25,0.3)(6.33,0.17)(6.5,0.3)(6.63,0.24)(6.9,0.35)(7.13,0.5)(7.4,0.6)(7.74,0.72)(8.0,0.65)(8.24,0.87)(8.5,0.7)(8.74,0.6)(9.0,0.8)(9.35,0.87)(9.55,0.6)(9.75,0.72)(10.0,0.9)(10.25,1.04)(10.5,0.8)(10.75,0.87)(11.0,1.1)(11.26,1.04)(11.5,0.8)(11.7,1.2)(11.96,1.04)};
\addplot[cM, dl] coordinates {(0.1,0.048)(0.3,0.0194)(0.5,0.04)(0.7,0.0066)(0.9,0.048)(1.05,0.015)(1.21,0.0095)(1.35,0.02)(1.51,0.0138)(1.71,0.0055)(1.85,0.012)(2.01,0.0079)(2.15,0.015)(2.31,0.023)(2.5,0.01)(2.71,0.0066)(2.91,0.04)(3.05,0.02)(3.22,0.0138)(3.35,0.03)(3.52,0.083)(3.72,0.0194)(3.92,0.057)(4.05,0.02)(4.22,0.0095)(4.42,0.0055)(4.6,0.01)(4.72,0.0138)(4.9,0.02)(5.03,0.028)(5.2,0.015)(5.33,0.0194)(5.5,0.03)(5.73,0.048)(5.9,0.07)(6.03,0.1)(6.23,0.24)(6.4,0.15)(6.53,0.1)(6.73,0.2)(6.9,0.15)(7.03,0.12)(7.2,0.2)(7.34,0.17)(7.5,0.1)(7.74,0.07)(7.9,0.12)(8.04,0.17)(8.2,0.35)(8.34,0.6)(8.5,0.4)(8.74,0.5)(8.9,0.3)(9.05,0.24)(9.2,0.4)(9.35,0.5)(9.55,0.6)(9.75,0.72)(9.9,0.45)(10.05,0.3)(10.2,0.5)(10.35,0.72)(10.55,0.6)(10.75,0.5)(10.95,0.4)(11.15,0.35)(11.35,0.5)(11.56,0.6)(11.75,0.45)(11.96,0.5)};
\addplot[cB, dl] coordinates {(0.05,0.0039)(0.3,0.0115)(0.5,0.008)(0.7,0.0138)(0.9,0.009)(1.1,0.023)(1.3,0.012)(1.51,0.0066)(1.71,0.023)(1.9,0.01)(2.11,0.0022)(2.3,0.008)(2.51,0.019)(2.7,0.009)(2.91,0.0066)(3.1,0.012)(3.32,0.023)(3.5,0.01)(3.72,0.0066)(3.9,0.015)(4.12,0.023)(4.3,0.012)(4.52,0.019)(4.7,0.01)(4.82,0.0095)(5.0,0.02)(5.23,0.048)(5.4,0.03)(5.53,0.028)(5.8,0.04)(6.03,0.048)(6.2,0.035)(6.43,0.057)(6.63,0.5)(6.8,0.3)(7.03,0.24)(7.2,0.45)(7.34,0.72)(7.5,0.5)(7.74,0.6)(7.9,0.9)(8.14,1.04)(8.4,0.95)(8.74,1.25)(9.0,1.0)(9.35,1.25)(9.55,1.1)(9.75,1.5)(10.0,1.2)(10.25,1.25)(10.5,1.6)(10.75,1.5)(11.0,1.3)(11.36,1.25)(11.6,1.6)(11.86,1.78)(12,1.9)};
\addplot[black, line width=2.2pt] coordinates {(4.43,0.0005)(4.43,5)};
\end{axis}
\node[font=\tnr\fontsize{15}{15}\selectfont] at (688,19) {time (UTC)};
\end{scope}

% ============ everything else in top-left pixel coordinates ============
\begin{scope}[shift={(0,666)}, yscale=-1]
% legends
\begin{scope}[every node/.style={anchor=base east, inner sep=0pt, font=\tnr\fontsize{12}{12}\selectfont}]
\node at (386,33) {IOP3};
\node at (386,47) {IOP4};
\node at (535,32) {IOP1};
\node at (535,47) {IOP2};
\node at (535,62) {IOP3};
\node at (535,77) {IOP5};
\end{scope}
\draw[cR, line width=1.6pt] (395,29)--(434,29);
\draw[cG, line width=1.6pt] (395,43)--(434,43);
\draw[cR, line width=1.6pt] (546,28)--(588,28);
\draw[cG, line width=1.6pt] (546,43)--(588,43);
\draw[cB, line width=1.6pt] (546,58)--(588,58);
\draw[cM, line width=1.6pt] (546,73)--(588,73);
\foreach \yy in {17,50,84,118,157,168,200,235,270,305,340,362,380,401,422,444}
  \fill[black!75] (479.6,\yy-3) rectangle (481,\yy+2);
\begin{scope}[font=\arial\bfseries\fontsize{26.5}{30}\selectfont]
\node[anchor=base west, inner sep=0pt] at (388,111) {Wind speed (m/s)};
\node[anchor=base west, inner sep=0pt] at (406,197) {Wind};
\node[anchor=base west, inner sep=0pt] at (407,223) {direction (º)};
\node[anchor=base west, inner sep=0pt] at (377,352) {Temperature (ºC)};
\node[anchor=base west, inner sep=0pt] at (383,527) {TKE (m2/s2)};
\end{scope}
\begin{scope}[red, line width=0.6pt, decoration={snake, segment length=3pt, amplitude=0.8pt}]
\draw[decorate] (389,114.5)--(457,114.5);
\draw[decorate] (463,114.5)--(540,114.5);
\draw[decorate] (407,200.5)--(470,200.5);
\draw[decorate] (408,227)--(517,227);
\draw[decorate] (378,356)--(540,356);
\draw[decorate] (560,356)--(583,356);
\end{scope}
\draw[black, line width=1.3pt] (8,662)--(906,662);
\begin{scope}[black!85, line width=0.8pt]
\draw (905,9)--(1145,9);
\draw (905,24)--(1145,24);
\draw (905,176)--(1145,176); \draw (905,179)--(1145,179);
\draw (905,294)--(1145,294); \draw (905,297)--(1145,297);
\draw (905,412)--(1145,412); \draw (905,415)--(1145,415);
\draw (905,547)--(1145,547); \draw (905,550)--(1145,550);
\draw (905,9)--(905,176); \draw (905,179)--(905,294); \draw (905,297)--(905,412); \draw (905,415)--(905,547); \draw (905,550)--(905,670);
\draw (946,9)--(946,176); \draw (946,179)--(946,294); \draw (946,297)--(946,412); \draw (946,415)--(946,547); \draw (946,550)--(946,670);
\end{scope}
\begin{scope}[every node/.style={inner sep=0pt}]
\def\hd{\fontsize{10.5}{12}\selectfont\bfseries}
\def\dt{\fontsize{10.4}{12}\selectfont\color{black!70}}
\def\bd{\fontsize{12.5}{15}\selectfont\bfseries}
\node[anchor=base, font=\hd] at (919,21) {IOP};
\node[anchor=base west, font=\dt] at (952,21) {period};
\node[anchor=base, font=\hd] at (920,37) {1};
\node[anchor=base, font=\hd] at (920,190) {2};
\node[anchor=base, font=\hd] at (920,309) {3};
\node[anchor=base, font=\hd] at (920,428) {4};
\node[anchor=base, font=\hd] at (920,562) {5};
\node[anchor=base west, font=\dt] at (952,37) {30/May 0400 - 0900 UTC};
\node[anchor=base west, font=\dt] at (952,190) {31/May 0300 - 0700 UTC};
\node[anchor=base west, font=\dt] at (952,309) {\makebox[186pt][s]{2/June 1800 UTC - 3/June 0700}};
\node[anchor=base west, font=\dt] at (952,324) {UTC};
\node[anchor=base west, font=\dt] at (952,428) {4/June 1600 - 2000 UTC};
\node[anchor=base west, font=\dt] at (952,562) {6/June 0300 - 1200 UTC};
\node[anchor=base west, font=\bd] at (952,154) {\makebox[186pt][s]{morning SB initiation with}};
\node[anchor=base west, font=\bd] at (952,171) {clouds after the turning};
\node[anchor=base west, font=\bd] at (952,257) {\makebox[186pt][s]{nocturnal cooling with a high}};
\node[anchor=base west, font=\bd] at (952,273) {\makebox[186pt][s]{katabatic. SB initiation with}};
\node[anchor=base west, font=\bd] at (952,290) {strong wind};
\node[anchor=base west, font=\bd] at (952,371) {\makebox[186pt][s]{nocturnal cooling (katabatic)}};
\node[anchor=base west, font=\bd] at (952,388) {\makebox[186pt][s]{followed by SB initiation pol-}};
\node[anchor=base west, font=\bd] at (952,405) {luted with strong wind};
\node[anchor=base west, font=\bd] at (952,493) {\makebox[186pt][s]{evening transition of SB with}};
\node[anchor=base west, font=\bd] at (952,510) {\makebox[186pt][s]{strong winds at the end that}};
\node[anchor=base west, font=\bd] at (952,526) {\makebox[186pt][s]{do not allow development of}};
\node[anchor=base west, font=\bd] at (952,543) {katabatic winds};
\node[anchor=base west, font=\bd] at (952,611) {\makebox[186pt][s]{nocturnal cooling (katabatic)}};
\node[anchor=base west, font=\bd] at (952,628) {\makebox[186pt][s]{followed by SB initiation pol-}};
\node[anchor=base west, font=\bd] at (952,644) {\makebox[186pt][s]{luted with strong wind and}};
\node[anchor=base west, font=\bd] at (952,661) {clouds};
\end{scope}
\end{scope}
\end{tikzpicture}
\end{document}
